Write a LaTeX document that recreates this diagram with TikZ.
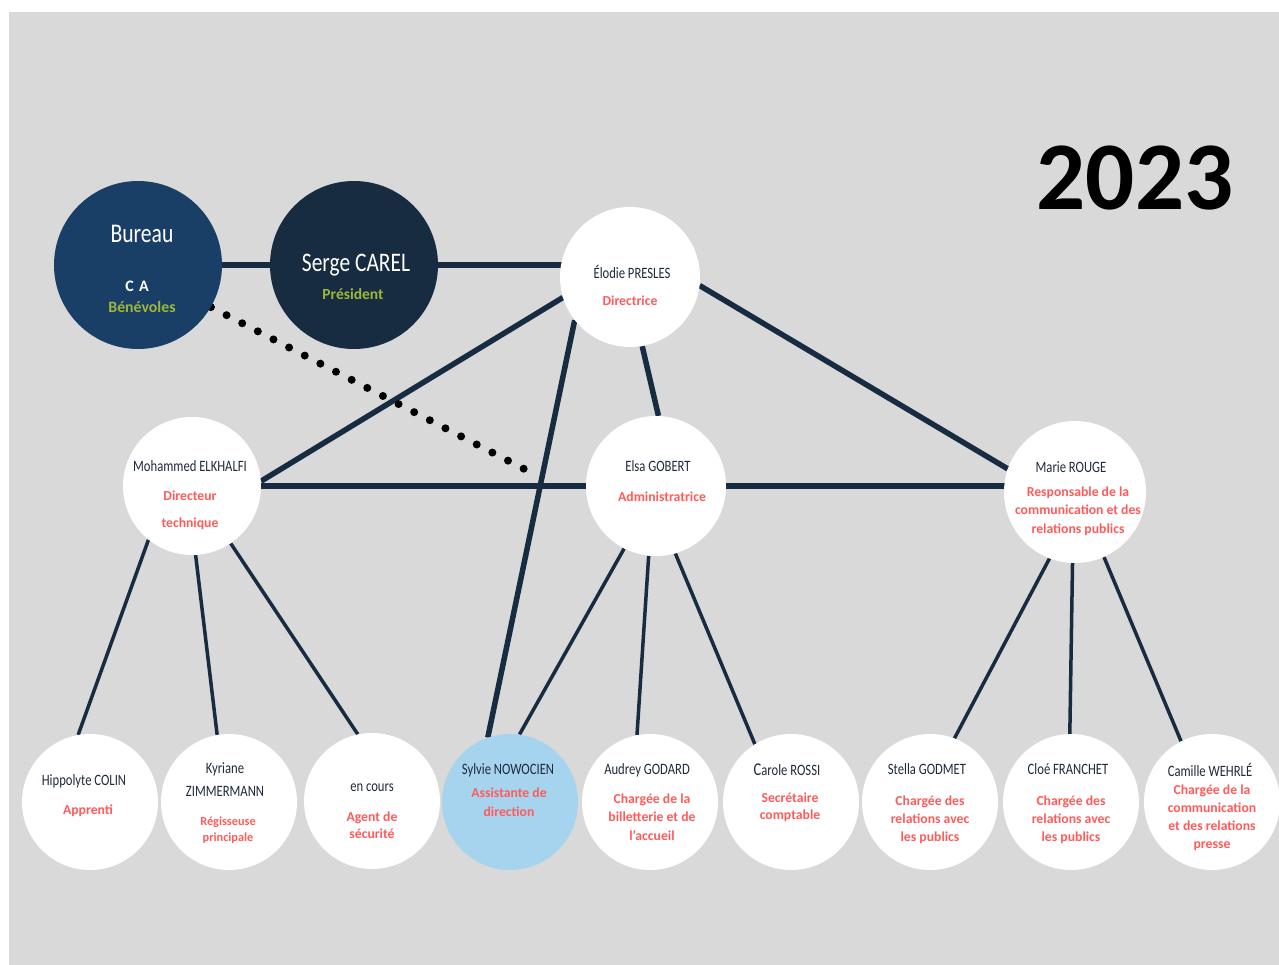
\documentclass[tikz,border=0pt]{standalone}
\usepackage{fontspec}
\setmainfont{Carlito}
\newfontfamily\condfont[FakeStretch=0.8]{Carlito}
\definecolor{bgc}{HTML}{D9D9D9}
\definecolor{bureauc}{HTML}{1A3F66}
\definecolor{sergec}{HTML}{172B41}
\definecolor{linec}{HTML}{172B41}
\definecolor{sylviec}{HTML}{A6D4EF}
\definecolor{redc}{HTML}{FF5B5B}
\definecolor{greenc}{HTML}{9CB83B}
\definecolor{namec}{HTML}{1E2B3C}
\pgfdeclarelayer{bg}
\pgfdeclarelayer{lines}
\pgfsetlayers{bg,lines,main}
\tikzset{
  person/.style={circle, minimum size=136, inner sep=0, fill=white},
  bigperson/.style={circle, minimum size=168, inner sep=0},
  midperson/.style={circle, minimum size=140, inner sep=0, fill=white},
  nm/.style={font=\condfont\fontsize{15.8}{23}\selectfont, text=namec, align=center, inner sep=0},
  role/.style={font=\bfseries\fontsize{13.7}{18.5}\selectfont, text=redc, align=center, inner sep=0},
  thickline/.style={draw=linec, line width=5.5},
  thinline/.style={draw=linec, line width=3.5},
  dotline/.style={draw=black, line width=8, line cap=round, dash pattern=on 0pt off 17.6pt}
}
\begin{document}
\begin{tikzpicture}[x=1pt,y=-1pt]
\useasboundingbox (0,0) rectangle (1279,965);
\begin{pgfonlayer}{bg}
  \fill[white] (0,0) rectangle (1279,965);
  \fill[bgc] (9,12) rectangle (1279,965);
\end{pgfonlayer}

% top nodes
\node[bigperson, fill=bureauc] (bureau) at (138,265) {};
\node[bigperson, fill=sergec] (serge) at (354,265) {};
\node[midperson] (elodie) at (630,277) {};
\node[midperson, minimum size=138] (mohammed) at (192,486) {};
\node[midperson] (elsa) at (656,486) {};
\node[midperson, minimum size=142] (marie) at (1075,492) {};

% bottom nodes
\node[person] (hippolyte) at (90,802) {};
\node[person] (kyriane) at (229,802) {};
\node[person] (encours) at (372,801) {};
\node[person, fill=sylviec] (sylvie) at (510,802) {};
\node[person] (audrey) at (650,802) {};
\node[person] (carole) at (791,802) {};
\node[person] (stella) at (930,802) {};
\node[person] (cloe) at (1071,802) {};
\node[person] (camille) at (1212,802) {};

\coordinate (dotend) at (530,472);

\begin{pgfonlayer}{lines}
  \draw[thickline, line width=6] (bureau) -- (serge);
  \draw[thickline] (serge) -- (serge -| elodie);
  \draw[thickline] (elodie.197) -- (mohammed.4);
  \draw[thickline] (elodie.218) -- (sylvie.109);
  \draw[thickline] (elodie.-80) -- (elsa.88);
  \draw[thickline] (elodie.-7) -- (marie.161);
  \draw[thickline] (mohammed) -- (elsa);
  \draw[thickline] (elsa) -- (elsa -| marie);
  \draw[dotline] (bureau.-30) -- (dotend);
  \draw[thinline] (mohammed.231) -- (hippolyte.100);
  \draw[thinline] (mohammed.-87) -- (kyriane.100);
  \draw[thinline] (mohammed.-56) -- (encours.102);
  \draw[thinline] (elsa.-117) -- (sylvie.82);
  \draw[thinline] (elsa.-96) -- (audrey.101);
  \draw[thinline] (elsa.-74) -- (carole.122);
  \draw[thinline] (marie.-111) -- (stella.69);
  \draw[thinline] (marie.-92) -- (cloe.91);
  \draw[thinline] (marie.-66) -- (camille.117);
\end{pgfonlayer}

% texts
\node[nm, text=white, font=\condfont\fontsize{27}{27}\selectfont] (tbureau) at (142,234) {Bureau};
\node[inner sep=0, text=white, font=\bfseries\fontsize{16}{16}\selectfont] (tca) at (137,286) {C\,\,A};
\node[inner sep=0, text=greenc, font=\bfseries\fontsize{15.8}{16}\selectfont] (tbenev) at (142,307) {Bénévoles};
\node[nm, text=white, font=\condfont\fontsize{26.8}{27}\selectfont] (tserge) at (356,265) {Serge CAREL};
\node[inner sep=0, text=greenc, font=\bfseries\fontsize{15.5}{16}\selectfont] (tpres) at (353,294) {Président};

\node[nm] (telodie) at (632,272) {Élodie PRESLES};
\node[role] (relodie) at (630,301) {Directrice};
\node[nm] (tmoh) at (190,466) {Mohammed ELKHALFI};
\node[role, font=\bfseries\fontsize{13.7}{27}\selectfont] (rmoh) at (190,510) {Directeur\\technique};
\node[nm] (telsa) at (658,466) {Elsa GOBERT};
\node[role] (relsa) at (662,497) {Administratrice};
\node[nm] (tmarie) at (1071,467) {Marie ROUGE};
\node[role] (rmarie) at (1078,511) {Responsable de la\\communication et des\\relations publics};

\node[nm] (thip) at (84,781) {Hippolyte COLIN};
\node[role] (rhip) at (88,811) {Apprenti};
\node[nm] (tkyr) at (225,780) {Kyriane\\ZIMMERMANN};
\node[role, font=\bfseries\fontsize{12.3}{16}\selectfont] (rkyr) at (228,830) {Régisseuse\\principale};
\node[nm] (tenc) at (372,788) {en cours};
\node[role, font=\bfseries\fontsize{13.7}{17}\selectfont] (renc) at (372,825) {Agent de\\sécurité};
\node[nm] (tsyl) at (508,770) {Sylvie NOWOCIEN};
\node[role, font=\bfseries\fontsize{13.7}{19}\selectfont] (rsyl) at (509,802) {Assistante de\\direction};
\node[nm] (taud) at (647,770) {Audrey GODARD};
\node[role] (raud) at (652,817) {Chargée de la\\billetterie et de\\l’accueil};
\node[nm] (tcar) at (787,770) {{\fontsize{18}{18}\selectfont C}arole ROSSI};
\node[role, font=\bfseries\fontsize{13.7}{17}\selectfont] (rcar) at (790,807) {Secrétaire\\comptable};
\node[nm] (tste) at (927,769) {Stella GODMET};
\node[role, font=\bfseries\fontsize{13.7}{18}\selectfont] (rste) at (930,820) {Chargée des\\relations avec\\les publics};
\node[nm] (tclo) at (1068,769) {Cloé FRANCHET};
\node[role, font=\bfseries\fontsize{13.7}{18}\selectfont] (rclo) at (1071,820) {Chargée des\\relations avec\\les publics};
\node[nm] (tcam) at (1210,770) {Camille WEHRLÉ};
\node[role, font=\bfseries\fontsize{13.7}{18}\selectfont] (rcam) at (1212,818) {Chargée de la\\communication\\et des relations\\presse};

\node[inner sep=0, text=black, font=\bfseries\fontsize{97}{97}\selectfont] (year) at (1135,178) {2023};
\end{tikzpicture}
\end{document}
